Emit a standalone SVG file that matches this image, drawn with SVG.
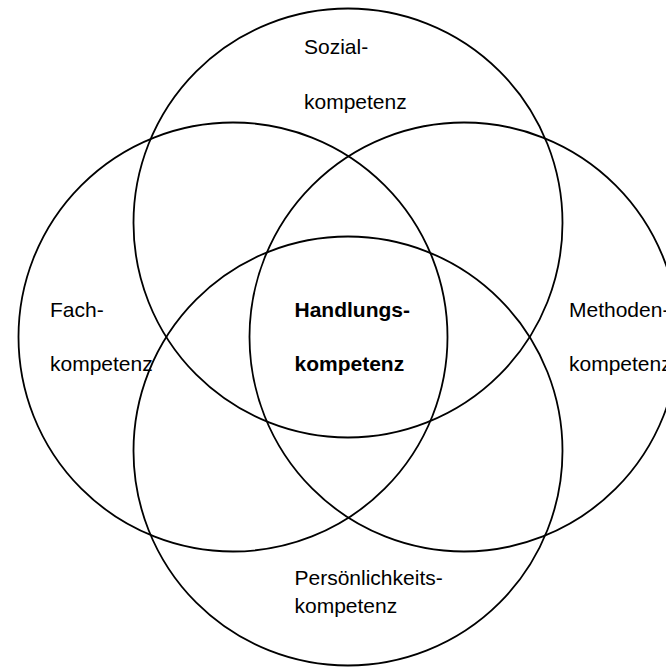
<svg xmlns="http://www.w3.org/2000/svg" width="666" height="671" viewBox="0 0 666 671">
<style>
.c{fill:none;stroke:#000;stroke-width:1.8}
.t{font-family:"Liberation Sans",Arial,sans-serif;font-size:21px;fill:#000}
.b{font-weight:bold}
</style>
<rect width="666" height="671" fill="#fff"/>
<g id="sozial"><circle class="c" cx="348" cy="223" r="214.5"/>
<text class="t" x="304" y="54">Sozial-</text><text class="t" x="304" y="109">kompetenz</text></g>
<g id="fach"><circle class="c" cx="233" cy="337" r="214.5"/>
<text class="t" x="50" y="316.5">Fach-</text><text class="t" x="50" y="370.5">kompetenz</text></g>
<g id="methoden"><circle class="c" cx="464" cy="337" r="214.5"/>
<text class="t" x="569" y="316.5">Methoden-</text><text class="t" x="569" y="370.5">kompetenz</text></g>
<g id="persoenlichkeit"><circle class="c" cx="348" cy="451" r="214.5"/>
<text class="t" x="294.5" y="585">Persönlichkeits-</text><text class="t" x="294.5" y="612.5">kompetenz</text></g>
<g id="handlung"><text class="t b" x="294.5" y="316.5">Handlungs-</text><text class="t b" x="294.5" y="371">kompetenz</text></g>
<g id="connectors"></g>
</svg>
